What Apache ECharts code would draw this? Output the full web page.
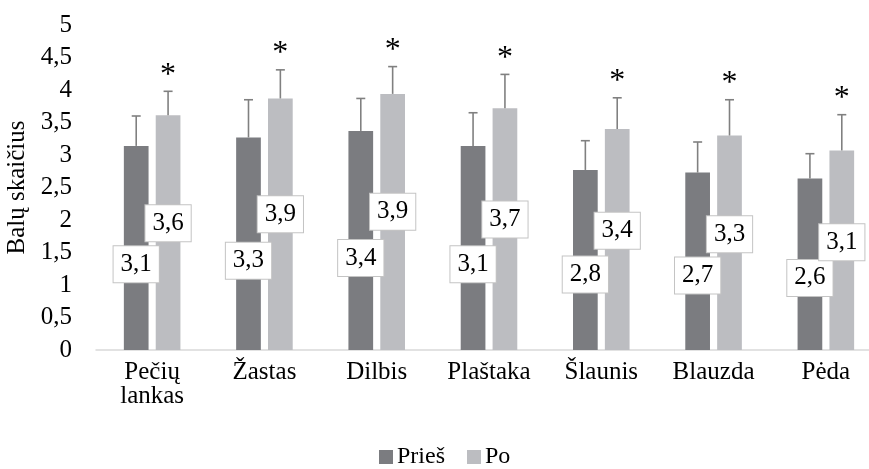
<!DOCTYPE html>
<html>
<head>
<meta charset="utf-8">
<script src="https://cdn.jsdelivr.net/npm/echarts@6/dist/echarts.min.js"></script>
<style>
html,body{margin:0;padding:0;background:#fff;}
#chart{width:869px;height:469px;}
</style>
</head>
<body>
<div id="chart"></div>
<script>
var categories = ['Pečių\nlankas', 'Žastas', 'Dilbis', 'Plaštaka', 'Šlaunis', 'Blauzda', 'Pėda'];
var seriesNames = ['Prieš', 'Po'];
var priesValues = [3.14, 3.27, 3.37, 3.14, 2.77, 2.73, 2.64];
var priesSD = [0.46, 0.58, 0.50, 0.51, 0.45, 0.47, 0.38];
var poValues = [3.61, 3.87, 3.94, 3.72, 3.40, 3.30, 3.07];
var poSD = [0.37, 0.44, 0.42, 0.52, 0.48, 0.55, 0.55];
var significance = ['*', '*', '*', '*', '*', '*', '*'];
var yTicks = [0, 0.5, 1, 1.5, 2, 2.5, 3, 3.5, 4, 4.5, 5];

var FONT = 'Liberation Serif';
var DARK = '#7b7c80';
var LIGHT = '#bcbdc1';
var BAR_W = 0.22;   // fraction of band
var GAP = 0.29;     // fraction of bar width

function fmt(v) { return v.toFixed(1).replace('.', ','); }

function errRender(sideSign) {
  return function (params, api) {
    var idx = api.value(0);
    var val = api.value(1);
    var sd = api.value(2);
    var sig = api.value(3);
    var band = api.size([1, 0])[0];
    var bw = band * BAR_W;
    var off = sideSign * (bw + bw * GAP) / 2;
    var base = api.coord([idx, val]);
    var top = api.coord([idx, val + sd]);
    var x = base[0] + off;
    var cap = 4.5;
    var style = { stroke: '#808080', lineWidth: 1.6 };
    var children = [
      { type: 'line', shape: { x1: x, y1: base[1], x2: x, y2: top[1] }, style: style },
      { type: 'line', shape: { x1: x - cap, y1: top[1], x2: x + cap, y2: top[1] }, style: style }
    ];
    if (sig) {
      children.push({
        type: 'text',
        style: {
          text: sig, x: x, y: top[1] - 16,
          align: 'center', verticalAlign: 'middle',
          fontFamily: FONT, fontSize: 32, fill: '#000'
        }
      });
    }
    return { type: 'group', children: children };
  };
}

var labelCommon = {
  show: true,
  formatter: function (p) { return fmt(p.value); },
  fontFamily: FONT,
  fontSize: 25,
  lineHeight: 25,
  color: '#000',
  backgroundColor: '#fff',
  borderColor: '#c4c4c4',
  borderWidth: 1,
  padding: [6, 7, 5, 7],
  align: 'center',
  verticalAlign: 'middle'
};

var chart = echarts.init(document.getElementById('chart'), null, { renderer: 'canvas' });
chart.setOption({
  animation: false,
  backgroundColor: '#fff',
  textStyle: { fontFamily: FONT },
  grid: { left: 96, top: 25, width: 786, height: 325, outerBoundsMode: 'none' },
  legend: {
    left: 374, top: 440,
    itemWidth: 14, itemHeight: 14, itemGap: 22,
    icon: 'rect',
    textStyle: { fontFamily: FONT, fontSize: 24, color: '#000', padding: [0, 0, 0, -1] },
    data: seriesNames
  },
  xAxis: {
    type: 'category',
    data: categories,
    axisLine: { lineStyle: { color: '#d9d9d9', width: 1.5 } },
    axisTick: { show: false },
    axisLabel: { fontFamily: FONT, fontSize: 25, color: '#000', margin: 10, lineHeight: 24, interval: 0 }
  },
  yAxis: {
    type: 'value',
    min: 0, max: 5, interval: 0.5,
    name: 'Balų skaičius',
    nameLocation: 'middle',
    nameGap: 66,
    nameMoveOverlap: false,
    nameTextStyle: { fontFamily: FONT, fontSize: 25, color: '#000' },
    axisLine: { show: false },
    axisTick: { show: false },
    splitLine: { show: false },
    axisLabel: {
      fontFamily: FONT, fontSize: 25, color: '#000', margin: 24,
      formatter: function (v) { return yTicks.indexOf(v) >= 0 ? String(v).replace('.', ',') : ''; }
    }
  },
  series: [
    {
      name: seriesNames[0], type: 'bar', data: priesValues,
      barWidth: (BAR_W * 100) + '%', barGap: (GAP * 100) + '%',
      itemStyle: { color: DARK },
      label: Object.assign({}, labelCommon, { position: ['50%', '58%'] })
    },
    {
      name: seriesNames[1], type: 'bar', data: poValues,
      barWidth: (BAR_W * 100) + '%', barGap: (GAP * 100) + '%',
      itemStyle: { color: LIGHT },
      label: Object.assign({}, labelCommon, { position: ['50%', '46%'] })
    },
    {
      type: 'custom', name: 'errPries', renderItem: errRender(-1), z: 5,
      data: priesValues.map(function (v, i) { return [i, v, priesSD[i], '']; }),
      encode: { x: 0, y: 1 }
    },
    {
      type: 'custom', name: 'errPo', renderItem: errRender(1), z: 5,
      data: poValues.map(function (v, i) { return [i, v, poSD[i], significance[i]]; }),
      encode: { x: 0, y: 1 }
    }
  ]
});
</script>
</body>
</html>
